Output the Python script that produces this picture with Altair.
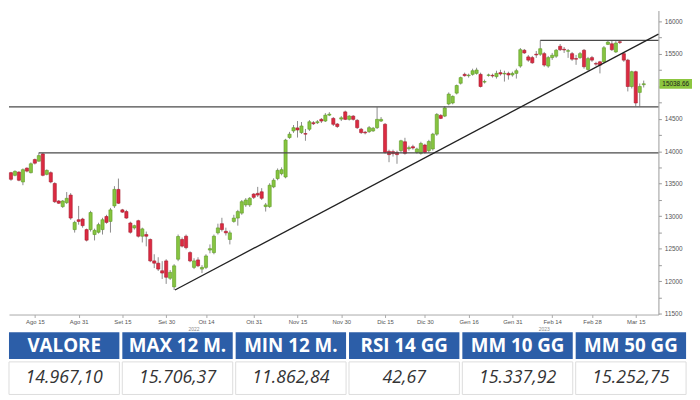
import json
import altair as alt
import pandas as pd

# ---- candle data (index = trading day, Aug 2022 -> Mar 2023) ----
opens = [13670,13629,13679,13527,13740,13670,13872,13846,13959,13644,13670,13503,13234,13147,13208,13325,12793,12945,12956,12793,
         12793,12717,12752,12793,12995,12919,13158,13412,13097,13071,12895,12819,12930,12691,12717,12641,12311,12276,12159,12311,
         12044,11911,12337,12641,12691,12439,12211,12326,12185,12211,12478,12439,12743,12884,12767,12641,12919,12971,13047,13173,
         13173,13340,13351,13375,13147,13147,13451,13579,13655,13603,14211,14313,14359,14287,14272,14339,14439,14439,14491,14465,
         14556,14506,14419,14495,14606,14491,14541,14476,14339,14293,14302,14313,14363,14465,14415,13998,13994,13983,14009,14146,
         14039,14070,13983,13968,14096,14009,14035,14263,14552,14541,14728,14743,14895,15047,15184,15164,15184,15199,15184,15065,
         15169,15169,15149,15210,15190,15199,15175,15199,15312,15555,15453,15442,15494,15494,15503,15312,15442,15464,15616,15570,
         15540,15503,15427,15442,15555,15260,15442,15351,15377,15377,15646,15655,15529,15686,15503,15403,14997,15225,14906,15025]
highs = [13682,13705,13690,13735,13751,13827,13887,13979,13974,13720,13690,13523,13249,13249,13371,13355,12930,13158,12975,12808,
         13082,12808,12899,12975,13021,13127,13462,13579,13112,13097,12915,12869,12945,12823,12763,12656,12413,12367,12307,12337,
         12170,12261,12717,12671,12717,12459,12352,12367,12246,12413,12565,12717,12884,12975,12823,12778,13021,13097,13249,13279,
         13295,13355,13451,13431,13203,13507,13583,13735,13751,14191,14298,14404,14465,14450,14343,14480,14465,14480,14511,14587,
         14602,14526,14435,14541,14625,14556,14556,14495,14359,14313,14389,14374,14678,14526,14435,14024,14024,14009,14176,14207,
         14085,14100,14055,14146,14115,14176,14283,14587,14571,14693,14906,14860,15027,15149,15210,15195,15271,15286,15210,15103,
         15195,15195,15240,15255,15240,15225,15225,15271,15590,15575,15483,15468,15544,15706,15529,15468,15514,15575,15651,15605,
         15575,15529,15483,15529,15575,15453,15468,15377,15392,15620,15702,15702,15696,15706,15529,15423,15240,15240,15043,15088]
lows = [13545,13614,13538,13477,13675,13659,13796,13842,13614,13629,13507,13203,13188,13127,13188,12945,12747,12869,12823,12611,
        12763,12626,12732,12717,12884,12747,13127,13188,13051,12960,12732,12793,12671,12595,12535,12291,12200,12155,12033,11957,
        12018,11863,12307,12519,12489,12291,12185,12215,12124,12185,12428,12413,12717,12763,12702,12565,12899,12854,13021,13143,
        13143,13264,13295,13249,13071,13127,13431,13553,13629,13583,14191,14283,14211,14267,14161,14313,14404,14419,14435,14450,
        14541,14389,14359,14465,14480,14473,14473,14343,14267,14260,14283,14298,14343,14450,13963,13831,13918,13807,13979,13948,
        14009,14024,13963,13948,13963,13979,14009,14237,14495,14526,14708,14723,14875,15027,15149,15134,15164,15179,14982,15043,
        15149,15134,15119,15164,15073,15103,15149,15119,15286,15499,15377,15347,15438,15468,15301,15286,15407,15438,15544,15514,
        15438,15392,15331,15423,15271,15240,15377,15316,15199,15362,15635,15544,15514,15651,15377,14921,14967,14693,14693,14982]
closes = [13568,13690,13553,13716,13694,13807,13816,13933,13629,13705,13527,13223,13199,13234,13275,12971,12904,12919,12854,12630,
          13056,12782,12869,12945,12904,13097,13412,13199,13062,12971,12752,12854,12691,12804,12691,12311,12276,12185,12124,12059,
          12135,12235,12687,12539,12515,12311,12311,12235,12211,12387,12500,12691,12819,12793,12743,12743,12971,13071,13223,13249,
          13275,13290,13325,13275,13173,13477,13553,13705,13716,14172,14263,14363,14328,14389,14263,14454,14424,14454,14465,14556,
          14571,14415,14381,14515,14491,14541,14491,14363,14287,14283,14363,14354,14491,14491,13983,13948,13963,13948,14161,13968,
          14055,14050,14035,14120,13983,14150,14263,14567,14506,14667,14880,14845,15012,15134,15164,15172,15240,15251,14997,15073,
          15175,15160,15199,15190,15199,15175,15199,15240,15564,15514,15403,15362,15483,15579,15327,15442,15479,15555,15564,15560,
          15549,15418,15418,15503,15301,15427,15403,15342,15327,15594,15681,15564,15666,15676,15403,14997,15225,14743,14997,15039]

# x-axis labels (trading-day index of each label)
tick_idx = [6, 17, 28, 39, 49, 61, 72, 83, 94, 104, 115, 126, 136, 146, 157]
tick_lbl = ["Ago 15", "Ago 31", "Set 15", "Set 30", "Ott 14", "Ott 31", "Nov 15", "Nov 30",
            "Dic 15", "Dic 30", "Gen 16", "Gen 31", "Feb 14", "Feb 28", "Mar 15"]
years = ["2022", "2023"]
year_idx = [46, 134]

# support / resistance levels
level_price = [14682, 13974, 15706]
level_start = [-0.5, 7, 133]
# trendline
trend_idx = [41.2, 162.7]
trend_price = [11863, 15803]

last_price = [15038.66]
last_label = ["15038.66"]

# table
headers = ["VALORE", "MAX 12 M.", "MIN 12 M.", "RSI 14 GG", "MM 10 GG", "MM 50 GG"]
values = ["14.967,10", "15.706,37", "11.862,84", "42,67", "15.337,92", "15.252,75"]

W, H = 658, 308
XMIN, XMAX = -0.5, 162.7
YMIN, YMAX = 11485, 16167
TW = 686

n = len(opens)
candles = pd.DataFrame({
    "idx": list(range(n)),
    "open": opens, "high": highs, "low": lows, "close": closes,
})
candles["dir"] = ["up" if c >= o else "down" for o, c in zip(opens, closes)]

xscale = alt.Scale(domain=[XMIN, XMAX], nice=False, zero=False, padding=0)
yscale = alt.Scale(domain=[YMIN, YMAX], nice=False, zero=False, padding=0)

label_expr = f"{json.dumps(tick_lbl)}[indexof({json.dumps(tick_idx)}, datum.value)]"

xaxis = alt.Axis(values=tick_idx, labelExpr=label_expr, title=None, grid=False,
                 labelFontSize=6, labelColor="#555", labelFont="Liberation Sans",
                 domainColor="#aaa", tickColor="#aaa", tickSize=3, labelPadding=1)
yaxis = alt.Axis(orient="right", values=list(range(11500, 16001, 250)),
                 labelExpr="(datum.value % 500 == 0 && datum.value != 15000) ? datum.label : ''",
                 format="d", title=None, grid=False, labelFontSize=6.5, labelColor="#555",
                 labelFont="Liberation Sans", domainColor="#999", tickColor="#999",
                 tickSize=3, labelPadding=3)


def X(field):
    return alt.X(field, scale=xscale, axis=xaxis, title=None)


def Y(field):
    return alt.Y(field, scale=yscale, axis=yaxis, title=None)


base = alt.Chart(candles)
wicks = base.mark_rule(color="#8a8a8a", strokeWidth=1).encode(
    x=X("idx:Q"), y=Y("low:Q"), y2="high:Q",
)
bodies = base.mark_bar(size=3.2, strokeWidth=0.6).encode(
    x=X("idx:Q"), y=Y("open:Q"), y2="close:Q",
    color=alt.Color("dir:N", scale=alt.Scale(domain=["up", "down"], range=["#86c440", "#dc2a41"]), legend=None),
    stroke=alt.Stroke("dir:N", scale=alt.Scale(domain=["up", "down"], range=["#5e9a23", "#a81c2e"]), legend=None),
)

levels = pd.DataFrame({"price": level_price, "x0": level_start, "x1": [XMAX] * len(level_price)})
level_rules = alt.Chart(levels).mark_rule(color="#4a4a4a", strokeWidth=1.3).encode(
    x=X("x0:Q"), x2="x1:Q", y=Y("price:Q"),
)

trend = pd.DataFrame({"tx": trend_idx, "tp": trend_price})
trend_line = alt.Chart(trend).mark_line(color="#222", strokeWidth=1.3).encode(
    x=X("tx:Q"), y=Y("tp:Q"),
)

yr = pd.DataFrame({"yi": year_idx, "year": years})
year_text = alt.Chart(yr).mark_text(fontSize=5, color="#888", font="Liberation Sans").encode(
    x=X("yi:Q"), y=alt.value(H + 15), text="year:N",
)

lp = pd.DataFrame({"lp": last_price, "lbl": last_label})
box_path = "M-1,-0.3L1,-0.3L1,0.3L-1,0.3Z"
last_box = alt.Chart(lp).mark_point(shape=box_path, filled=True, size=33 * 33, color="#8cc63f", opacity=1).encode(
    x=alt.value(W + 17.5), y=Y("lp:Q"),
)
last_text = alt.Chart(lp).mark_text(fontSize=6.5, color="#1a1a1a", font="Liberation Sans").encode(
    x=alt.value(W + 17.5), y=Y("lp:Q"), text="lbl:N",
)

top = alt.layer(wicks, bodies, level_rules, trend_line, year_text, last_box, last_text).properties(width=W, height=H)

tab = pd.DataFrame({"header": headers, "value": values})
colx = alt.X("header:N", sort=None, axis=None, scale=alt.Scale(paddingInner=0.026, paddingOuter=0))
hdr_rect = alt.Chart(tab).mark_rect(color="#2c5ea8").encode(x=colx)
hdr_text = alt.Chart(tab).mark_text(color="white", font="Open Sans", fontWeight="bold", fontSize=19).encode(
    x=colx, text="header:N")
hdr = alt.layer(hdr_rect, hdr_text).properties(width=TW, height=27)

val_rect = alt.Chart(tab).mark_rect(color="white", stroke="#dcdcdc", strokeWidth=1).encode(x=colx)
val_text = alt.Chart(tab).mark_text(color="#333", font="Open Sans", fontStyle="italic", fontSize=18).encode(
    x=colx, text="value:N")
vals = alt.layer(val_rect, val_text).properties(width=TW, height=33)

chart = alt.vconcat(top, alt.vconcat(hdr, vals, spacing=2), spacing=0).properties(
    padding=0, background="white"
).configure_view(stroke=None)

chart.save("out.html", embed_options={"renderer": "svg", "actions": False})
